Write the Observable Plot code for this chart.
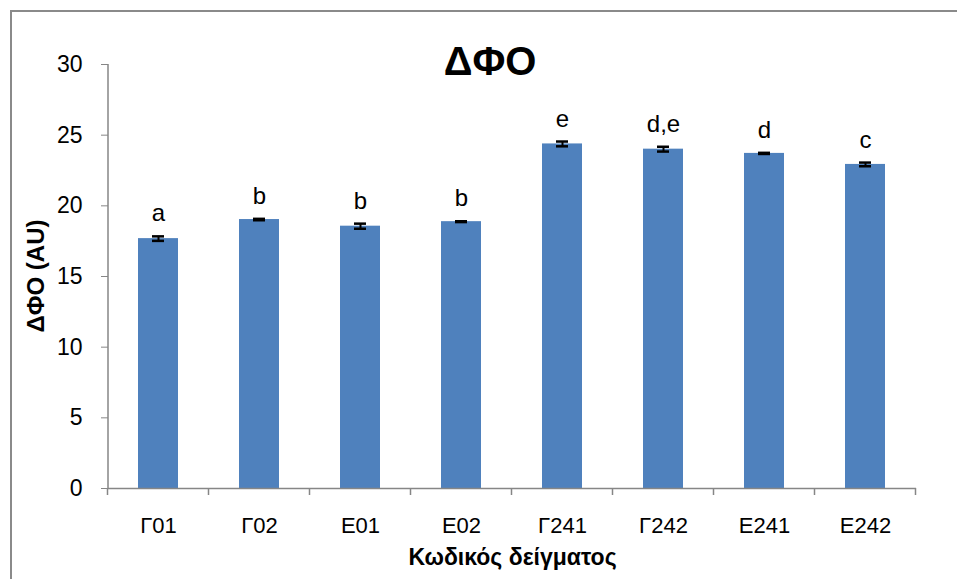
<!DOCTYPE html>
<html><head><meta charset="utf-8">
<script src="https://cdn.jsdelivr.net/npm/d3@7"></script>
<script src="https://cdn.jsdelivr.net/npm/@observablehq/plot@0.6"></script>
<style>
body{margin:0;background:#fff;}
#wrap{position:relative;width:957px;height:579px;overflow:hidden;font-family:"Liberation Sans",Arial,sans-serif;}
#border{position:absolute;left:10px;top:10px;width:1000px;height:1000px;border-left:2px solid #8a8a8a;border-top:2px solid #8a8a8a;}
#chart{position:absolute;left:0;top:0;}
#title{position:absolute;left:0;width:980px;top:41px;text-align:center;font-size:40px;line-height:40px;font-weight:bold;color:#000;}
</style>
</head><body>
<div id="wrap"><div id="border"></div><div id="chart"></div><div id="title">ΔΦΟ</div></div>
<script>
const categories = ["Γ01","Γ02","Ε01","Ε02","Γ241","Γ242","Ε241","Ε242"];
const values = [17.68, 19.03, 18.56, 18.88, 24.38, 24.01, 23.71, 22.93];
const errors = [0.16, 0.05, 0.18, 0.03, 0.17, 0.17, 0.04, 0.13];
const letters = ["a","b","b","b","e","d,e","d","c"];
const yTicks = [0,5,10,15,20,25,30];
const yLabel = "ΔΦΟ (AU)";
const xLabel = "Κωδικός δείγματος";
const data = categories.map((c,i)=>({c, v:values[i], e:errors[i], l:letters[i]}));

const axisColor = "#868686";
const chart = Plot.plot({
  width:957, height:579,
  marginLeft:108, marginRight:41, marginTop:64, marginBottom:91,
  style:{fontFamily:"'Liberation Sans', Arial, sans-serif", fontSize:"22px", color:"#000", background:"transparent", overflow:"visible"},
  x:{domain:categories, paddingInner:0.6, paddingOuter:0.3, label:null},
  y:{domain:[0,30], label:null},
  marks:[
    Plot.barY(data,{x:"c", y:"v", fill:"#4F81BD"}),
    Plot.ruleX(data,{x:"c", y1:d=>d.v-d.e, y2:d=>d.v+d.e, stroke:"#000", strokeWidth:2}),
    Plot.tickY(data,{x:"c", y:d=>d.v-d.e, stroke:"#000", strokeWidth:2.5, insetLeft:14, insetRight:14}),
    Plot.tickY(data,{x:"c", y:d=>d.v+d.e, stroke:"#000", strokeWidth:2.5, insetLeft:14, insetRight:14}),
    Plot.text(data,{x:"c", y:d=>d.v+d.e, text:"l", lineAnchor:"bottom", dy:-15, fontSize:24, fill:"#000"}),
    Plot.ruleY([0],{stroke:axisColor, strokeWidth:1.5}),
    Plot.axisY({ticks:yTicks, tickSize:7, tickPadding:19, stroke:axisColor, strokeOpacity:1, label:null, fill:"#000", fontSize:23}),
    Plot.axisX({tickSize:0, tickPadding:29, label:null, fill:"#000", fontSize:22}),
    Plot.text([xLabel],{frameAnchor:"bottom", dy:76, fontWeight:"bold", fontSize:23, fill:"#000"})
  ]
});
document.getElementById("chart").appendChild(chart);

const sx = chart.scale("x"), sy = chart.scale("y");
const svg = d3.select(chart);
// y axis title, rotated, centred on the plot's vertical extent
const yMid = (sy.apply(0) + sy.apply(30)) / 2;
svg.append("text").attr("transform",`translate(36,${yMid}) rotate(-90)`)
  .attr("text-anchor","middle").attr("dy","0.35em")
  .attr("font-weight","bold").style("font-size","24px").attr("fill","#000").text(yLabel);
// axis line on the left and category boundary ticks
const x0 = 108;
svg.append("line").attr("x1",x0).attr("x2",x0).attr("y1",sy.apply(30)).attr("y2",sy.apply(0))
  .attr("stroke",axisColor).attr("stroke-width",1.5);
const step = sx.step, bw = sx.bandwidth;
const bounds = categories.map(c => sx.apply(c) - (step-bw)/2);
bounds.push(bounds[bounds.length-1] + step);
svg.append("g").selectAll("line").data(bounds).join("line")
  .attr("x1",d=>d).attr("x2",d=>d).attr("y1",sy.apply(0)).attr("y2",sy.apply(0)+7)
  .attr("stroke",axisColor).attr("stroke-width",1.5);
</script>
</body></html>
